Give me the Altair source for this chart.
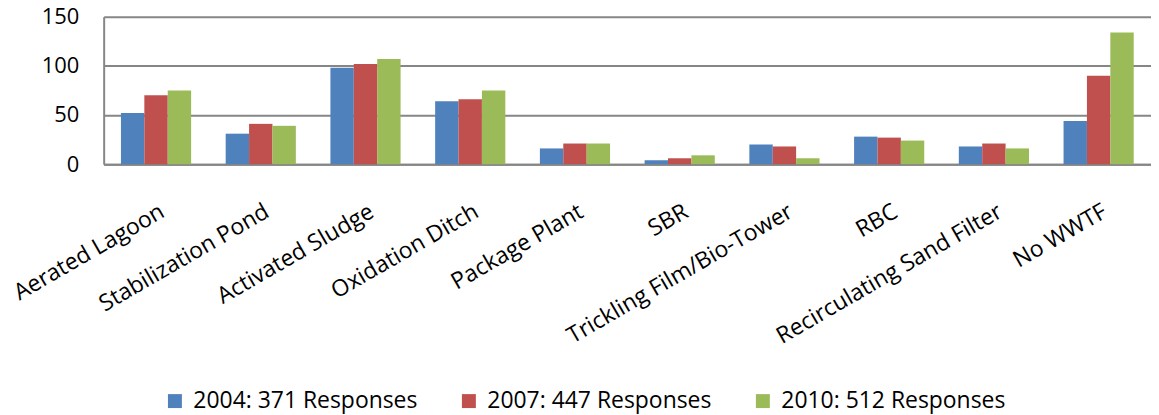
import altair as alt
import pandas as pd

categories = ["Aerated Lagoon", "Stabilization Pond", "Activated Sludge", "Oxidation Ditch",
              "Package Plant", "SBR", "Trickling Film/Bio-Tower", "RBC",
              "Recirculating Sand Filter", "No WWTF"]
series = ["2004: 371 Responses", "2007: 447 Responses", "2010: 512 Responses"]
v2004 = [52, 31, 98, 64, 16, 4, 20, 28, 18, 44]
v2007 = [70, 41, 102, 66, 21, 6, 18, 27, 21, 90]
v2010 = [75, 39, 107, 75, 21, 9, 6, 24, 16, 134]
colors = ["#4F81BD", "#C0504D", "#9BBB59"]
y_ticks = [0, 50, 100, 150]

rows = []
for s, vals in zip(series, [v2004, v2007, v2010]):
    for c, v in zip(categories, vals):
        rows.append({"cat": c, "series": s, "value": v})
df = pd.DataFrame(rows)

FONT = "Open Sans"

chart = alt.Chart(df).mark_bar().encode(
    x=alt.X("cat:N", sort=categories, title=None,
            scale=alt.Scale(paddingInner=0.33, paddingOuter=0.165),
            axis=alt.Axis(labelAngle=-30, labelAlign="right", labelBaseline="top",
                          labelFontSize=23, labelFont=FONT, labelColor="#000000",
                          labelPadding=36, labelOffset=1, ticks=False,
                          domainColor="#868686", domainWidth=2, grid=False,
                          labelLimit=500)),
    xOffset=alt.XOffset("series:N", sort=series, scale=alt.Scale(paddingInner=0, paddingOuter=0)),
    y=alt.Y("value:Q", title=None,
            scale=alt.Scale(domain=[0, 150], nice=False),
            axis=alt.Axis(values=y_ticks, labelFontSize=22, labelFont=FONT,
                          labelColor="#000000", labelPadding=25, ticks=False,
                          domainColor="#868686", domainWidth=2,
                          gridColor="#868686", gridWidth=2)),
    color=alt.Color("series:N", sort=series,
                    scale=alt.Scale(domain=series, range=colors),
                    legend=alt.Legend(title=None, orient="none", legendX=60, legendY=374,
                                      direction="horizontal", symbolType="square",
                                      symbolSize=196, symbolStrokeWidth=0,
                                      labelFontSize=23, labelFont=FONT,
                                      labelColor="#000000", labelOffset=7,
                                      labelLimit=500, columnPadding=40)),
).properties(
    width=1051, height=148,
    autosize=alt.AutoSizeParams(type="none"),
    padding={"left": 96, "top": 8, "right": 0, "bottom": 251},
).configure_view(stroke=None)

chart.save("out.html", embed_options={"renderer": "svg", "actions": False})
